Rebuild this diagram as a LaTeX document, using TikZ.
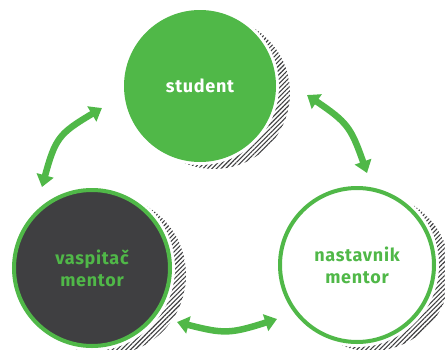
\documentclass[tikz,border=0pt]{standalone}
\usepackage{fontspec}
\setmainfont[LetterSpace=4]{Fira Sans}
\usetikzlibrary{arrows.meta,bending,patterns.meta}
\definecolor{leaf}{RGB}{80,184,72}
\definecolor{coal}{RGB}{63,63,65}
\tikzset{
  role/.style={circle, minimum size=#1pt, inner sep=0pt, align=center,
    font=\bfseries\fontsize{18}{22}\selectfont},
  hatch/.style={pattern={Lines[angle=45,distance=3.2pt,line width=1.1pt]},
    pattern color=coal},
  link/.style={leaf, line width=6.5pt, {tipw}-{tipw}}
}
\tikzset{tipw/.tip={Triangle[width=17pt,length=12pt,bend]}}
\begin{document}
\begin{tikzpicture}[x=1pt, y=-1pt]
\useasboundingbox (0,0) rectangle (445,349);
\foreach \c/\r in {{200,86}/76, {92,268}/80, {357,265}/79} {
  \fill[hatch] (\c) ++(14,7) circle (\r pt);
  \fill[white] (\c) circle (\r pt + 3pt);
}
\node[role=152, fill=leaf, text=white] (student) at (200,86) {student};
\node[role=156, draw=leaf, line width=4pt, fill=coal, text=leaf] (vaspitac) at (92,268) {vaspitač\\mentor};
\node[role=154, draw=leaf, line width=4pt, fill=white, text=leaf] (nastavnik) at (357,265) {nastavnik\\mentor};
\coordinate (sv) at (102,108);
\coordinate (vs) at (42,187);
\coordinate (sn) at (307,95);
\coordinate (ns) at (367,173);
\coordinate (vn) at (177,322);
\coordinate (nv) at (277,319);
\draw[link] (sv) .. controls (56,135) .. (vs);
\draw[link] (sn) .. controls (350,124) .. (ns);
\draw[link] (vn) .. controls (227,335) .. (nv);
\end{tikzpicture}
\end{document}
